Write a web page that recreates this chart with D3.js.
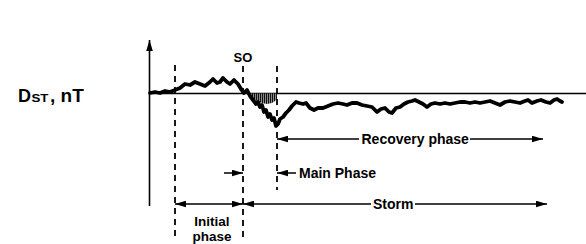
<!DOCTYPE html>
<html><head><meta charset="utf-8">
<script src="https://cdn.jsdelivr.net/npm/d3@7"></script>
<style>html,body{margin:0;padding:0;background:#fff;}svg{display:block;}</style>
</head><body>
<script>
// Dst storm profile: time (hours, arbitrary) and Dst (nT)
const dstTime = [0,1,2,3,4,5,6,7,8,9,10,11,12,12.6,13.4,14,14.6,15.4,16,16.8,17.6,18.2,18.8,19.4,20,20.6,21.2,21.6,22,22.4,22.8,23.2,23.6,24,24.4,24.8,25.2,25.6,26,26.6,27.2,27.8,28.4,29.2,29.8,30.6,31.2,32,32.8,33.6,34.6,35.6,36.6,37.6,38.6,39.4,40.4,41.4,42.4,43.4,44.4,45.4,46.2,47,47.8,48.4,49.2,50,50.8,51.6,52.4,53,53.8,54.6,55.4,56.2,57,58,59,60,61,62,63,64,65,66,67,68,69,70,71,72,73,74,75,75.6,76.4,77.4,78.2,79.2,80,80.8,81.4,82,82.4];
const dstValue = [1,3,1,5,3,7,11,19,17,23,19,15,23,29,21,23,31,23,19,27,19,9,1,7,-5,-13,-21,-17,-27,-23,-37,-33,-47,-41,-53,-49,-65,-61,-51,-47,-39,-33,-25,-17,-19,-21,-19,-29,-33,-29,-29,-25,-21,-19,-21,-23,-19,-19,-23,-25,-27,-37,-31,-29,-37,-39,-29,-27,-21,-17,-15,-13,-17,-21,-27,-21,-19,-21,-19,-21,-19,-17,-17,-19,-17,-19,-17,-15,-19,-23,-17,-15,-17,-19,-15,-13,-19,-15,-13,-17,-19,-13,-11,-15,-17];
// shaded main-phase region envelope
const shadeTime = [19.4,20,20.6,21.4,22.4,23.4,24.4,25,25.4];
const shadeValue = [0,-7,-11,-15,-19,-21,-19,-15,-12];
// phase boundaries (time)
const phaseTimes = {onset: 5, so: 18.6, mainEnd: 25.4};
const labels = {y: "D", ySub: "ST", yUnit: ", nT", so: "SO", recovery: "Recovery phase", main: "Main Phase", storm: "Storm", initial1: "Initial", initial2: "phase"};

const W = 586, H = 244;
const svg = d3.select("body").append("svg").attr("width", W).attr("height", H);
const x = d3.scaleLinear().domain([0, 85]).range([150, 575]);
const y = d3.scaleLinear().domain([-80, 40]).range([133.5, 73.5]);
const font = "'Liberation Sans', Arial, Helvetica, sans-serif";

const defs = svg.append("defs");
const pat = defs.append("pattern").attr("id","hatch").attr("patternUnits","userSpaceOnUse").attr("width",2).attr("height",3);
pat.append("rect").attr("width",2).attr("height",3).attr("fill","#888");
pat.append("line").attr("x1",0.5).attr("x2",0.5).attr("y1",0).attr("y2",3).attr("stroke","#111").attr("stroke-width",1);
defs.append("marker").attr("id","ah").attr("viewBox","0 0 10 6").attr("refX",10).attr("refY",3)
  .attr("markerWidth",11).attr("markerHeight",7).attr("markerUnits","userSpaceOnUse").attr("orient","auto-start-reverse")
  .append("path").attr("d","M0,0L10,3L0,6Z").attr("fill","#000");

// y axis with arrow
svg.append("line").attr("x1",149.5).attr("x2",149.5).attr("y1",206).attr("y2",40)
  .attr("stroke","#000").attr("stroke-width",1.6).attr("marker-end","url(#ah)");
// zero baseline
svg.append("line").attr("x1",149).attr("x2",586).attr("y1",y(0)).attr("y2",y(0)).attr("stroke","#000").attr("stroke-width",1.6);

// shaded region
const shade = shadeTime.map((t,i)=>({t, v: shadeValue[i]}));
svg.append("path").datum(shade)
  .attr("d", d3.area().x(d=>x(d.t)).y0(y(0)).y1(d=>y(d.v)).curve(d3.curveLinear))
  .attr("fill","url(#hatch)");

// Dst trace
const pts = dstTime.map((t,i)=>({t, v: dstValue[i]}));
svg.append("path").datum(pts)
  .attr("d", d3.line().x(d=>x(d.t)).y(d=>y(d.v)))
  .attr("fill","none").attr("stroke","#000").attr("stroke-width",3.8)
  .attr("stroke-linejoin","round").attr("stroke-linecap","round");

// dashed phase lines
const dash = (t, y1, y2) => svg.append("line").attr("x1",x(t)).attr("x2",x(t)).attr("y1",y1).attr("y2",y2)
  .attr("stroke","#000").attr("stroke-width",1.8).attr("stroke-dasharray","6,5");
dash(phaseTimes.onset, 65, 241);
dash(phaseTimes.so, 66, 241);
dash(phaseTimes.mainEnd, 66, 190);

// arrows
function arrow(t1, t2, yy, start, end){
  const l = svg.append("line").attr("x1",x(t1)).attr("x2",x(t2)).attr("y1",yy).attr("y2",yy)
    .attr("stroke","#000").attr("stroke-width",1.5);
  if(start) l.attr("marker-start","url(#ah)");
  if(end) l.attr("marker-end","url(#ah)");
}
function txt(s, xx, yy, size, anchor){
  return svg.append("text").attr("x",xx).attr("y",yy).attr("font-family",font).attr("font-weight","bold")
    .attr("font-size",size).attr("text-anchor",anchor||"start").attr("fill","#000").text(s);
}
// Recovery phase
arrow(phaseTimes.mainEnd, 41.8, 139, true, false);
arrow(64.0, 78.6, 139, false, true);
txt(labels.recovery, 361.5, 143.5, 14);
// Main phase
arrow(phaseTimes.mainEnd, 29.2, 173, true, false);
txt(labels.main, 299, 177.5, 14);
arrow(14.8, phaseTimes.so, 173, false, true);
// Storm
arrow(phaseTimes.so, 44.2, 204, true, false);
arrow(53, 79.4, 204, false, true);
txt(labels.storm, 373, 208.5, 14);
// Initial phase
arrow(phaseTimes.onset, phaseTimes.so, 204, true, true);
txt(labels.initial1, 212, 225.5, 13.5, "middle");
txt(labels.initial2, 212, 240.5, 13.5, "middle");
// SO
txt(labels.so, x(phaseTimes.so), 62, 13, "middle");

// Y label
txt(labels.y, 18, 102.3, 18);
txt(labels.ySub, 31.5, 102.3, 11.5).attr("textLength",17).attr("lengthAdjust","spacingAndGlyphs");
txt(labels.yUnit, 50, 102.3, 19);
</script>
</body></html>
